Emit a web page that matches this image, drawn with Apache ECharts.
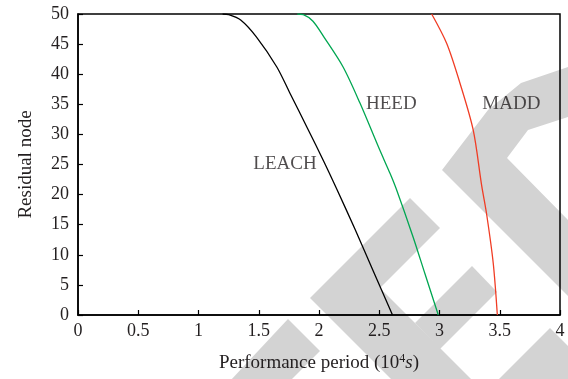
<!DOCTYPE html>
<html>
<head>
<meta charset="utf-8">
<script src="https://cdn.jsdelivr.net/npm/echarts@6/dist/echarts.min.js"></script>
<style>
  html, body { margin: 0; padding: 0; background: #fff; }
  #chart { width: 568px; height: 379px; }
</style>
</head>
<body>
<div id="chart"></div>
<script>
// values (x in 10^4 s, y = residual nodes)
var leachX = [1.20, 1.25, 1.35, 1.48, 1.65, 1.76, 1.90, 2.04, 2.15, 2.30, 2.45, 2.61];
var leachY = [50, 49.9, 49.0, 46.2, 41.2, 36.8, 31.2, 25.5, 20.8, 14.2, 7.3, 0];
var heedX = [1.82, 1.87, 1.95, 2.04, 2.20, 2.34, 2.50, 2.59, 2.64, 2.78, 2.88, 2.99];
var heedY = [50, 49.9, 48.8, 46.2, 41.2, 35.2, 27.6, 23.5, 21.0, 13.0, 6.8, 0];
var maddX = [2.935, 3.06, 3.17, 3.28, 3.35, 3.39, 3.446, 3.48];
var maddY = [50, 45.1, 38.5, 30.7, 21.5, 16.9, 8.6, 0];

var labelNames = ['LEACH', 'HEED', 'MADD'];
var labelX = [1.718, 2.60, 3.596];
var labelY = [25.1, 35, 35];

var xTicks = [0, 0.5, 1, 1.5, 2, 2.5, 3, 3.5, 4];
var yTicks = [0, 5, 10, 15, 20, 25, 30, 35, 40, 45, 50];

function pairs(xs, ys) {
  var out = [];
  for (var i = 0; i < xs.length; i++) out.push([xs[i], ys[i]]);
  return out;
}

var labelData = [];
for (var i = 0; i < labelNames.length; i++) {
  labelData.push({ name: labelNames[i], value: [labelX[i], labelY[i]] });
}

var font = 'Liberation Serif';
var txt = '#231f20';
var grey = '#d3d3d3';

// watermark outlines (page pixels), drawn behind everything
var marks = [
  [[568,67],[521,83],[488,110],[465,140],[442,170],[660,388],[660,312],[568,220],[507,158],[528,130],[568,117]],
  [[310,298],[410,198],[440,228],[380,288],[480,388],[400,388]],
  [[472,266],[497,292],[440,349],[415,323]],
  [[288,319],[320,351],[290,381],[230,381]],
  [[550,328],[620,398],[480,398]]
];

var graphics = [];
for (var k = 0; k < marks.length; k++) {
  graphics.push({
    type: 'polygon', id: 'wm' + k, silent: true, z: -1,
    style: { fill: grey },
    shape: { points: marks[k] }
  });
}

var myChart = echarts.init(document.getElementById('chart'));

var option = {
  animation: false,
  backgroundColor: '#fff',
  graphic: graphics,
  grid: {
    left: 78, right: 8, top: 14, bottom: 64,
    show: true, borderColor: '#000', borderWidth: 1.5
  },
  xAxis: {
    type: 'value', min: 0, max: 4, interval: 0.5, z: 2,
    name: '{a|Performance period (10}{sup|4}{i|s}{a|)}',
    nameLocation: 'middle', nameGap: 38,
    nameTextStyle: {
      rich: {
        a: { fontFamily: font, fontSize: 19, color: txt },
        sup: { fontFamily: font, fontSize: 12, color: txt, verticalAlign: 'top', padding: [0, 0, 8, 0] },
        i: { fontFamily: font, fontSize: 19, color: txt, fontStyle: 'italic' }
      }
    },
    axisLine: { lineStyle: { color: '#000', width: 1.5 } },
    axisTick: { inside: true, length: 5, lineStyle: { color: '#000', width: 1.2 } },
    axisLabel: {
      margin: 7, fontFamily: font, fontSize: 18, color: txt,
      formatter: function (v) { return xTicks.indexOf(v) >= 0 ? String(v) : ''; }
    },
    splitLine: { show: false }
  },
  yAxis: {
    type: 'value', min: 0, max: 50, interval: 5, z: 2,
    name: 'Residual node', nameLocation: 'middle', nameGap: 42, nameRotate: 90,
    nameTextStyle: { fontFamily: font, fontSize: 19, color: txt },
    axisLine: { lineStyle: { color: '#000', width: 1.5 } },
    axisTick: { inside: true, length: 5, lineStyle: { color: '#000', width: 1.2 } },
    axisLabel: {
      margin: 9, fontFamily: font, fontSize: 18, color: txt,
      formatter: function (v) { return yTicks.indexOf(v) >= 0 ? String(v) : ''; }
    },
    splitLine: { show: false }
  },
  series: [
    { name: 'LEACH', type: 'line', data: pairs(leachX, leachY), showSymbol: false,
      smooth: 0.3, lineStyle: { color: '#000', width: 1.3 } },
    { name: 'HEED', type: 'line', data: pairs(heedX, heedY), showSymbol: false,
      smooth: 0.3, lineStyle: { color: '#00a651', width: 1.3 } },
    { name: 'MADD', type: 'line', data: pairs(maddX, maddY), showSymbol: false,
      smooth: 0.3, lineStyle: { color: '#f03c24', width: 1.3 } },
    { name: 'labels', type: 'scatter', data: labelData, symbolSize: 1,
      itemStyle: { color: 'transparent' },
      label: {
        show: true, position: 'inside', formatter: '{b}',
        fontFamily: font, fontSize: 19, color: txt
      }
    }
  ]
};

myChart.setOption(option);
</script>
</body>
</html>
